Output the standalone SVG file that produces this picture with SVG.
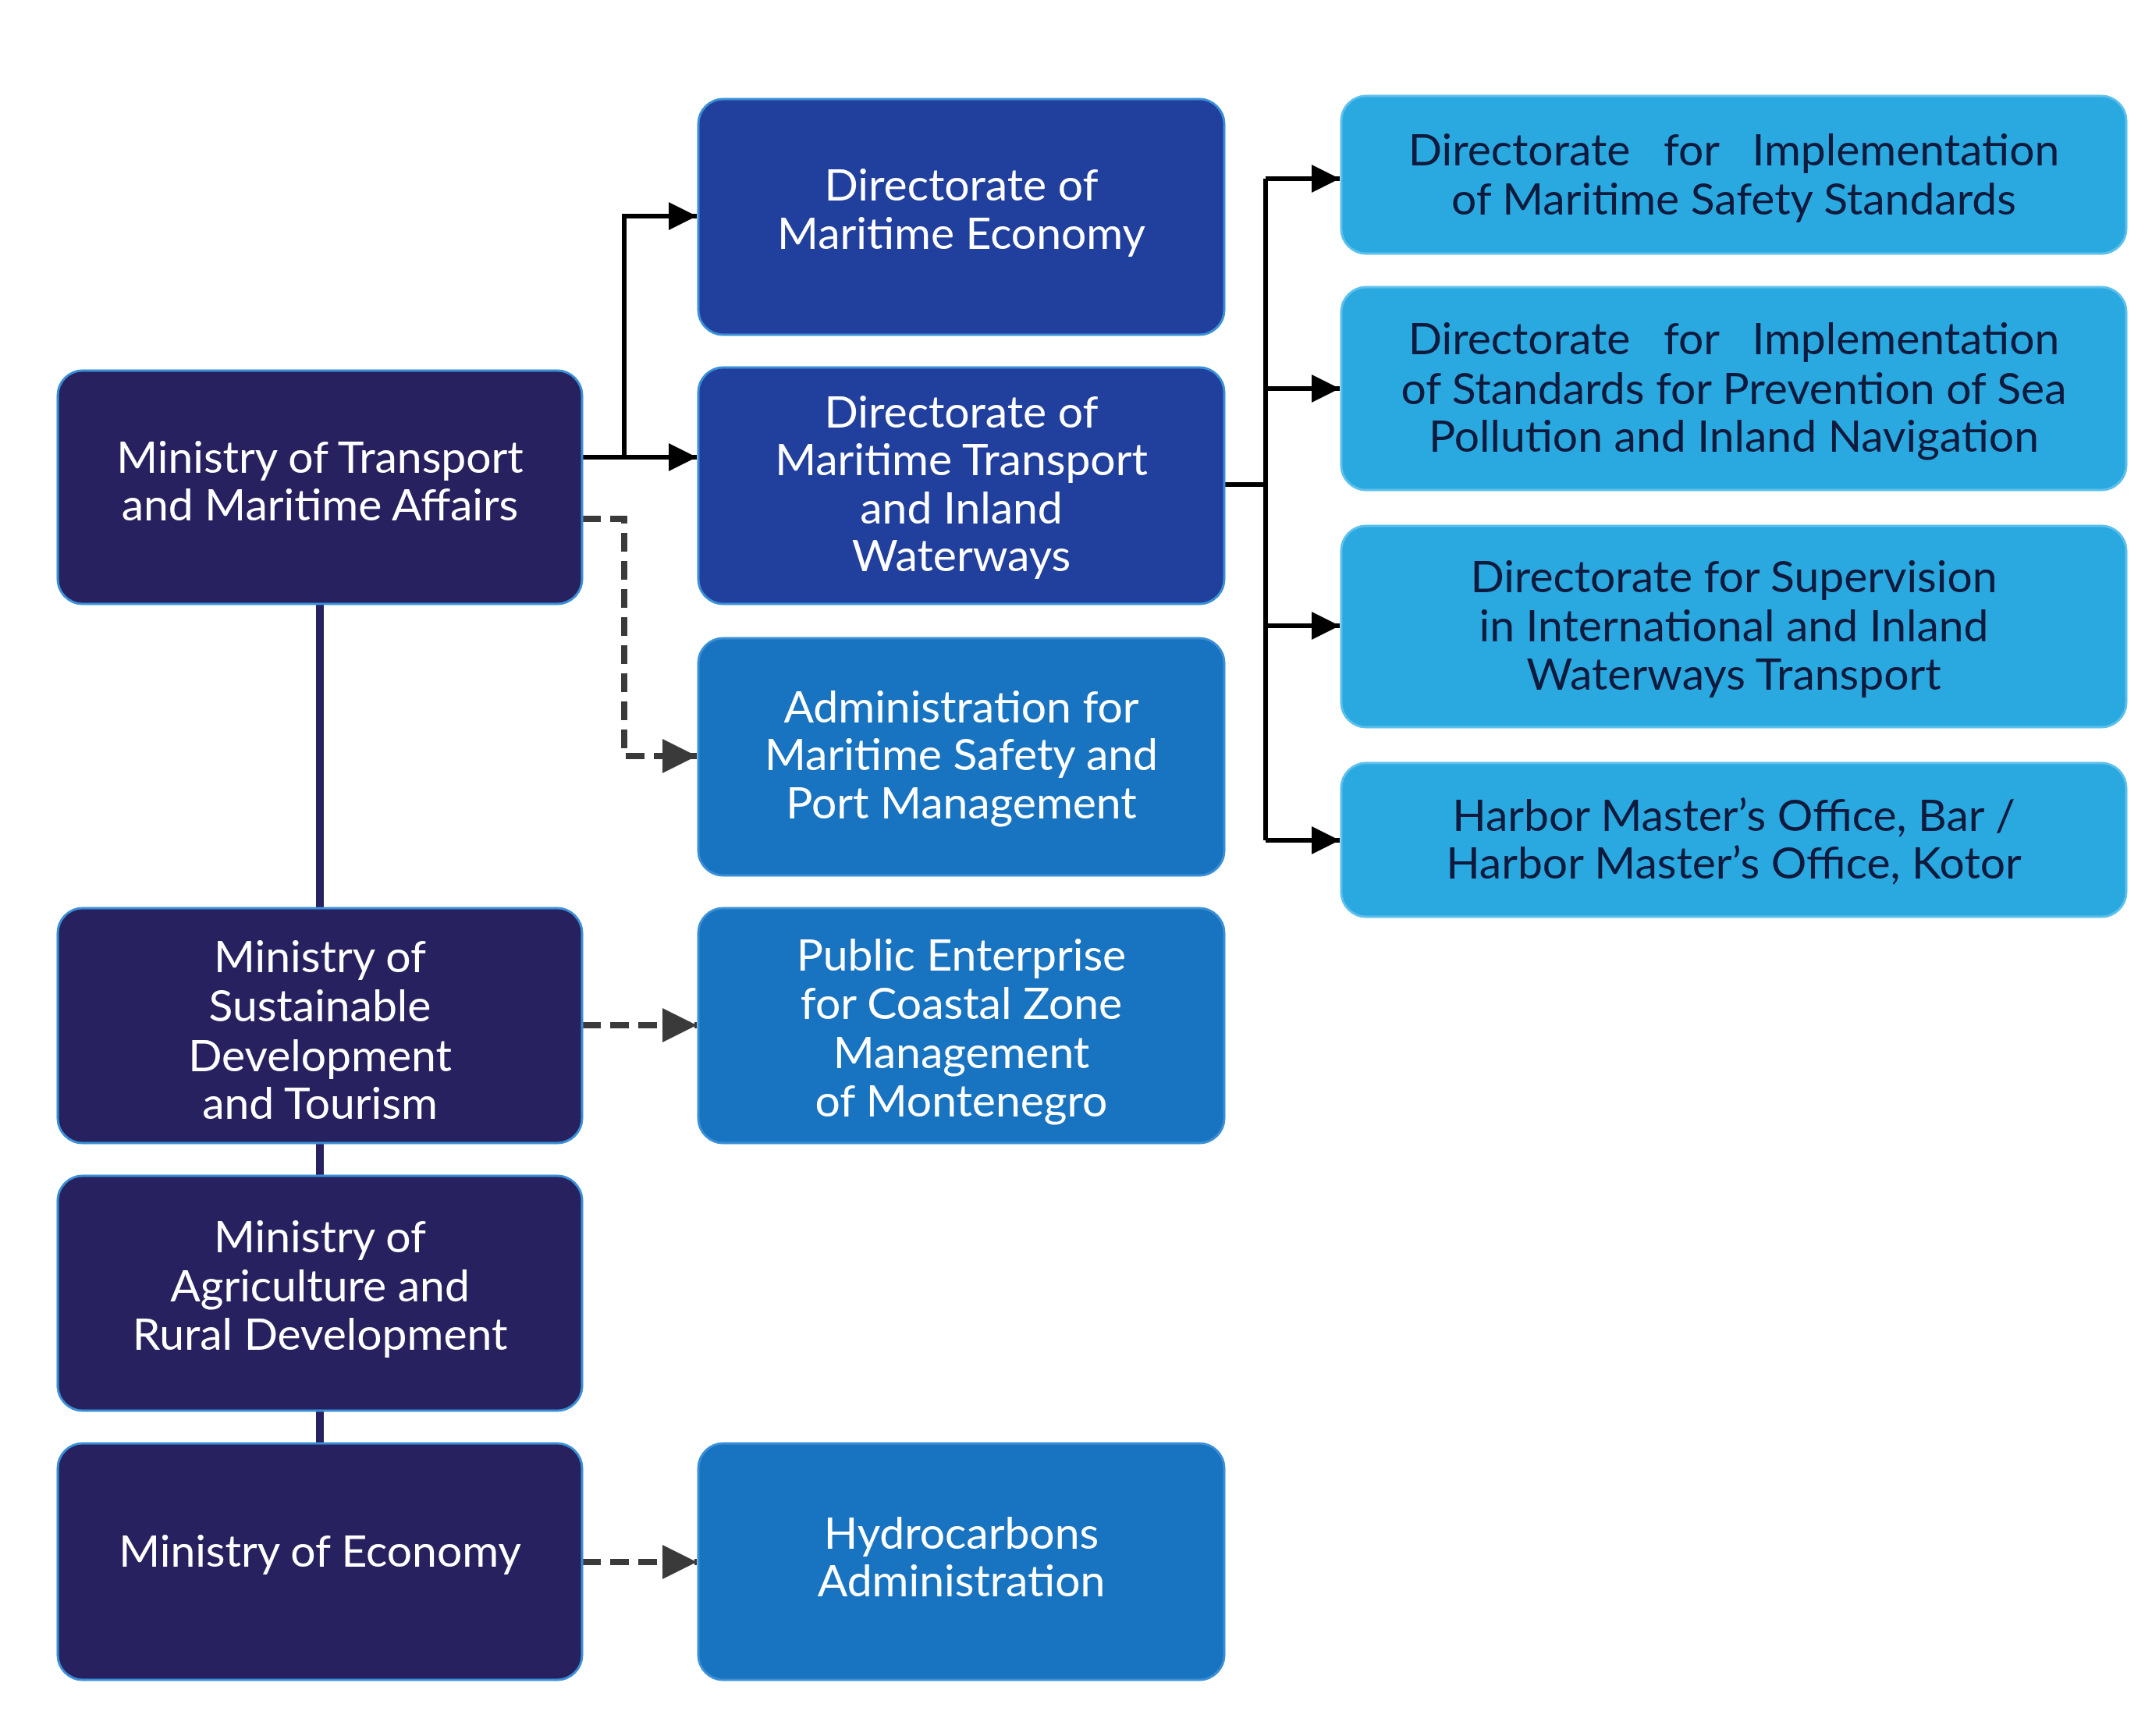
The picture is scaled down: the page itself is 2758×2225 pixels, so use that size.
<svg xmlns="http://www.w3.org/2000/svg" width="2758" height="2225" viewBox="0 0 2758 2225">
<style>
.min{fill:#27215f;stroke:#3a8fd6;stroke-width:3}
.dir{fill:#213f9c;stroke:#3a8fd6;stroke-width:3}
.adm{fill:#1873c0;stroke:#3a8fd6;stroke-width:3}
.sub{fill:#2aa8e0;stroke:#5cc0ec;stroke-width:3}
text{font-family:Lato,"Open Sans","Liberation Sans",sans-serif;font-size:57px;text-anchor:middle}
.w{fill:#ffffff}
.k{fill:#0f1a3c}
.solid{stroke:#000;stroke-width:6;fill:none}
.dash{stroke:#3a3a3a;stroke-width:8;fill:none;stroke-dasharray:24 12}
.vline{stroke:#27215f;stroke-width:10;fill:none}
</style>
<defs>
<marker id="ah" viewBox="0 0 10 10" refX="10" refY="5" markerWidth="6" markerHeight="7" markerUnits="strokeWidth" orient="auto"><path d="M0,0L10,5L0,10z" fill="#000"/></marker>
<marker id="ahd" viewBox="0 0 10 10" refX="10" refY="5" markerWidth="5.5" markerHeight="6.5" markerUnits="strokeWidth" orient="auto"><path d="M0,0L10,5L0,10z" fill="#3a3a3a"/></marker>
</defs>
<rect width="2758" height="2225" fill="#fff"/>
<g id="connectors">
<line class="vline" x1="410" y1="770" x2="410" y2="1855"/>
<path class="solid" d="M746,586H800V277H893" marker-end="url(#ah)"/>
<path class="solid" d="M800,586H893" marker-end="url(#ah)"/>
<path class="dash" d="M746,665H800V969H893" marker-end="url(#ahd)"/>
<path class="dash" d="M746,1314H893" marker-end="url(#ahd)"/>
<path class="dash" d="M746,2002H893" marker-end="url(#ahd)"/>
<path class="solid" d="M1569,621H1622"/>
<path class="solid" d="M1622,229V1077"/>
<path class="solid" d="M1622,229H1717" marker-end="url(#ah)"/>
<path class="solid" d="M1622,498H1717" marker-end="url(#ah)"/>
<path class="solid" d="M1622,802H1717" marker-end="url(#ah)"/>
<path class="solid" d="M1622,1077H1717" marker-end="url(#ah)"/>
</g>
<g id="min-transport"><rect class="min" x="74" y="475" width="672" height="299" rx="32"/>
<text class="w" x="410" y="606">Ministry of Transport</text><text class="w" x="410" y="667">and Maritime Affairs</text></g>
<g id="min-sustainable"><rect class="min" x="74" y="1164" width="672" height="301" rx="32"/>
<text class="w" x="410" y="1246">Ministry of</text><text class="w" x="410" y="1309">Sustainable</text><text class="w" x="410" y="1373">Development</text><text class="w" x="410" y="1434">and Tourism</text></g>
<g id="min-agriculture"><rect class="min" x="74" y="1507" width="672" height="301" rx="32"/>
<text class="w" x="410" y="1605">Ministry of</text><text class="w" x="410" y="1668">Agriculture and</text><text class="w" x="410" y="1730">Rural Development</text></g>
<g id="min-economy"><rect class="min" x="74" y="1850" width="672" height="303" rx="32"/>
<text class="w" x="410" y="2008">Ministry of Economy</text></g>
<g id="dir-economy"><rect class="dir" x="895" y="127" width="674" height="302" rx="32"/>
<text class="w" x="1232" y="257">Directorate of</text><text class="w" x="1232" y="319">Maritime Economy</text></g>
<g id="dir-transport"><rect class="dir" x="895" y="471" width="674" height="303" rx="32"/>
<text class="w" x="1232" y="548">Directorate of</text><text class="w" x="1232" y="609">Maritime Transport</text><text class="w" x="1232" y="671">and Inland</text><text class="w" x="1232" y="732">Waterways</text></g>
<g id="admin-safety"><rect class="adm" x="895" y="818" width="674" height="304" rx="32"/>
<text class="w" x="1232" y="926">Administration for</text><text class="w" x="1232" y="987">Maritime Safety and</text><text class="w" x="1232" y="1049">Port Management</text></g>
<g id="public-enterprise"><rect class="adm" x="895" y="1164" width="674" height="301" rx="32"/>
<text class="w" x="1232" y="1244">Public Enterprise</text><text class="w" x="1232" y="1306">for Coastal Zone</text><text class="w" x="1232" y="1369">Management</text><text class="w" x="1232" y="1431">of Montenegro</text></g>
<g id="hydrocarbons"><rect class="adm" x="895" y="1850" width="674" height="303" rx="32"/>
<text class="w" x="1232" y="1985">Hydrocarbons</text><text class="w" x="1232" y="2046">Administration</text></g>
<g id="r1"><rect class="sub" x="1719" y="123" width="1006" height="202" rx="32"/>
<text class="k" x="2222" y="212" word-spacing="28">Directorate for Implementation</text><text class="k" x="2222" y="275">of Maritime Safety Standards</text></g>
<g id="r2"><rect class="sub" x="1719" y="368" width="1006" height="260" rx="32"/>
<text class="k" x="2222" y="454" word-spacing="28">Directorate for Implementation</text><text class="k" x="2222" y="518">of Standards for Prevention of Sea</text><text class="k" x="2222" y="579">Pollution and Inland Navigation</text></g>
<g id="r3"><rect class="sub" x="1719" y="674" width="1006" height="258" rx="32"/>
<text class="k" x="2222" y="759">Directorate for Supervision</text><text class="k" x="2222" y="822">in International and Inland</text><text class="k" x="2222" y="884">Waterways Transport</text></g>
<g id="r4"><rect class="sub" x="1719" y="978" width="1006" height="197" rx="32"/>
<text class="k" x="2222" y="1065">Harbor Master’s Office, Bar /</text><text class="k" x="2222" y="1126">Harbor Master’s Office, Kotor</text></g>
</svg>
